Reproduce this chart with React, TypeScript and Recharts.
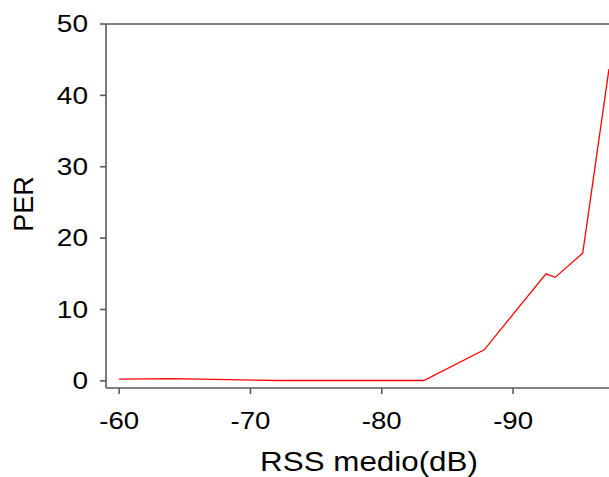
import React from 'react';
import { LineChart, Line, XAxis, YAxis, ReferenceLine } from 'recharts';

const rssValues = [-60, -64, -72, -78, -83.2, -87.8, -92.5, -93.2, -95.3, -97.3];
const perValues = [0.25, 0.3, 0.05, 0.05, 0.05, 4.35, 15.0, 14.5, 17.9, 43.7];
const xTicks = [-60, -70, -80, -90];
const yTicks = [0, 10, 20, 30, 40, 50];

const data = rssValues.map((rss, i) => ({ rss, per: perValues[i] }));

const FONT = 'Arial, "Liberation Sans", sans-serif';
const AXIS_COLOR = '#5a5a5a';

const XTick = (props: any) => {
  const { x, y, payload } = props;
  return (
    <text
      x={x}
      y={y}
      dy="0.716em"
      textAnchor="middle"
      fontFamily={FONT}
      fontSize={23}
      fill="#000"
      style={{ transform: 'scaleX(1.2)', transformBox: 'fill-box', transformOrigin: 'center' } as any}
    >
      {payload.value}
    </text>
  );
};

const YTick = (props: any) => {
  const { x, y, payload } = props;
  return (
    <text
      x={x}
      y={y}
      dy="0.358em"
      textAnchor="end"
      fontFamily={FONT}
      fontSize={23}
      fill="#000"
      style={{ transform: 'scaleX(1.22)', transformBox: 'fill-box', transformOrigin: 'right center' } as any}
    >
      {payload.value}
    </text>
  );
};

const XLabel = (props: any) => {
  const vb = props.viewBox || {};
  const cx = vb.x + vb.width / 2 + 11.5;
  const by = vb.y + 83.5;
  return (
    <text
      x={cx}
      y={by}
      textAnchor="middle"
      fontFamily={FONT}
      fontSize={28}
      fill="#000"
      style={{ transform: 'scaleX(1.12)', transformBox: 'fill-box', transformOrigin: 'center' } as any}
    >
      RSS medio(dB)
    </text>
  );
};

const YLabel = (props: any) => {
  const vb = props.viewBox || {};
  const cx = vb.x + 23.5;
  const cy = vb.y + vb.height / 2 - 2;
  return (
    <text
      transform={`translate(${cx},${cy}) rotate(-90)`}
      textAnchor="middle"
      dy="0.358em"
      fontFamily={FONT}
      fontSize={27}
      fill="#000"
    >
      PER
    </text>
  );
};

export default function App() {
  return (
    <div style={{ position: 'absolute', left: 0, top: 0, width: 609, height: 477, background: '#fff' }}>
      <LineChart width={609} height={477} data={data} margin={{ top: 24, right: 0, left: 0, bottom: 0 }}>
        <XAxis
          dataKey="rss"
          type="number"
          domain={[-97.3, -59]}
          reversed
          allowDataOverflow
          ticks={xTicks}
          tickSize={6}
          tickMargin={19}
          height={89}
          axisLine={{ stroke: AXIS_COLOR, strokeWidth: 1.6 }}
          tickLine={{ stroke: AXIS_COLOR, strokeWidth: 1.6 }}
          tick={<XTick />}
          label={<XLabel />}
        />
        <YAxis
          type="number"
          domain={[-1, 50]}
          allowDataOverflow
          ticks={yTicks}
          tickSize={6}
          tickMargin={12}
          width={106}
          axisLine={{ stroke: AXIS_COLOR, strokeWidth: 1.6 }}
          tickLine={{ stroke: AXIS_COLOR, strokeWidth: 1.6 }}
          tick={<YTick />}
          label={<YLabel />}
        />
        <ReferenceLine y={50} stroke={AXIS_COLOR} strokeWidth={1.6} />
        <Line
          type="linear"
          dataKey="per"
          stroke="#ff0000"
          strokeWidth={1.3}
          dot={false}
          isAnimationActive={false}
        />
      </LineChart>
    </div>
  );
}
